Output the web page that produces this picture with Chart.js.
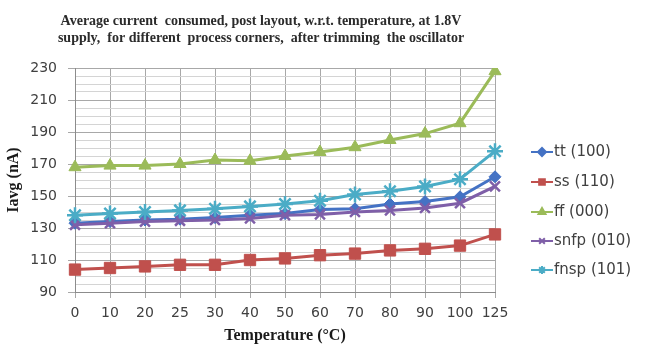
<!DOCTYPE html>
<html>
<head>
<meta charset="utf-8">
<script src="https://cdn.jsdelivr.net/npm/chart.js@4/dist/chart.umd.min.js"></script>
<style>
html,body{margin:0;padding:0;background:#fff;}
#c{display:block;}
</style>
</head>
<body>
<canvas id="c" width="646" height="346"></canvas>
<script>
// ---- data ----
const temps = ['0','10','20','25','30','40','50','60','70','80','90','100','125'];
const tt   = [133,134,135,135.5,136.5,138,139,141.5,142,145,146.5,149.5,162];
const ss   = [104,105,106,107,107,110,111,113,114,116,117,119,126];
const ff   = [168,169,169,170,172.5,172,175,177.5,180.5,185,189,195.5,228];
const snfp = [132,133,134,134.5,135,136,138,138.5,140,141,142.5,145.5,156];
const fnsp = [138,139,140,141,142,143.5,145,147,151,153,156,160.5,178];
const seriesNames = ['tt (100)','ss (110)','ff (000)','snfp (010)','fnsp (101)'];
const titleLines = ['Average current  consumed, post layout, w.r.t. temperature, at 1.8V',
                    'supply,  for different  process corners,  after trimming  the oscillator'];
const yTitle = 'Iavg (nA)';
const xTitle = 'Temperature (\u00B0C)';
const yMin = 90, yMax = 230, yStep = 5, yLabelStep = 20;

const colors = ['#4472c4','#c0504d','#9bbb59','#7f5fa8','#4bacc6'];
const styles = ['rectRot','rect','triangle','crossRot','star'];
const radii = [6,8,7,7,8];
const values = [tt, ss, ff, snfp, fnsp];

const datasets = values.map((v,i)=>({
  label: seriesNames[i],
  data: v,
  borderColor: colors[i],
  backgroundColor: colors[i],
  pointBackgroundColor: colors[i],
  pointBorderColor: colors[i],
  borderWidth: 3,
  pointStyle: styles[i],
  pointRadius: radii[i],
  pointBorderWidth: (styles[i]==='crossRot'||styles[i]==='star') ? 2.5 : 1,
  tension: 0,
  order: 5 - i
}));

const titlePlugin = {
  id: 'customTitle',
  afterDraw(chart){
    const ctx = chart.ctx;
    ctx.save();
    ctx.fillStyle = '#2b2b2b';
    ctx.font = 'bold 14px "Liberation Serif", serif';
    ctx.textAlign = 'center';
    ctx.textBaseline = 'middle';
    ctx.fillText(titleLines[0], 261, 21);
    ctx.fillText(titleLines[1], 261, 38);
    ctx.restore();
  }
};

const legendPlugin = {
  id: 'customLegend',
  afterDraw(chart){
    const ctx = chart.ctx;
    const ys = [152,182,212,241,270];
    ctx.save();
    chart.data.datasets.forEach((ds,i)=>{
      const y = ys[i];
      ctx.strokeStyle = ds.borderColor;
      ctx.lineWidth = 2;
      ctx.beginPath(); ctx.moveTo(531,y); ctx.lineTo(553,y); ctx.stroke();
      ctx.fillStyle = ds.borderColor;
      ctx.strokeStyle = ds.borderColor;
      Chart.helpers.drawPoint(ctx, {pointStyle: ds.pointStyle, radius: 4, borderWidth: 1.5}, 542, y);
      ctx.fillStyle = '#404040';
      ctx.font = '15px "DejaVu Sans", sans-serif';
      ctx.textAlign = 'left';
      ctx.textBaseline = 'middle';
      ctx.fillText(ds.label, 554, y);
    });
    ctx.restore();
  }
};

new Chart(document.getElementById('c'), {
  type: 'line',
  data: { labels: temps, datasets },
  plugins: [titlePlugin, legendPlugin],
  options: {
    responsive: false,
    animation: false,
    devicePixelRatio: 1,
    layout: { padding: { top: 68, right: 151, left: 0, bottom: 0 } },
    plugins: { legend: { display: false }, title: { display: false }, tooltip: { enabled: false } },
    scales: {
      x: {
        type: 'category',
        offset: false,
        afterFit(s){ s.height = 54; },
        grid: { color: '#a8a8a8', lineWidth: 1, tickLength: 6, drawOnChartArea: true },
        border: { color: '#8c8c8c' },
        ticks: { autoSkip: false, maxRotation: 0, padding: 7, color: '#404040',
                 font: { family: '"DejaVu Sans", sans-serif', size: 14 } },
        title: { display: true, text: xTitle, color: '#1a1a1a', padding: { top: 0, bottom: 1 },
                 font: { family: '"Liberation Serif", serif', size: 16, weight: 'bold' } }
      },
      y: {
        min: yMin, max: yMax,
        afterFit(s){ s.width = 75; },
        grid: {
          color: c => ((c.tick.value - yMin) % yLabelStep === 0) ? '#a8a8a8' : '#d4d4d4',
          tickColor: c => ((c.tick.value - yMin) % yLabelStep === 0) ? '#a8a8a8' : 'rgba(0,0,0,0)',
          tickLength: 7
        },
        border: { color: '#8c8c8c' },
        ticks: {
          stepSize: yStep, autoSkip: false, padding: 11, color: '#404040',
          font: { family: '"DejaVu Sans", sans-serif', size: 14 },
          callback: v => ((v - yMin) % yLabelStep === 0) ? String(v) : ''
        },
        title: { display: true, text: yTitle, color: '#1a1a1a', padding: { top: 4, bottom: 0 },
                 font: { family: '"Liberation Serif", serif', size: 16, weight: 'bold' } }
      }
    }
  }
});
</script>
</body>
</html>
